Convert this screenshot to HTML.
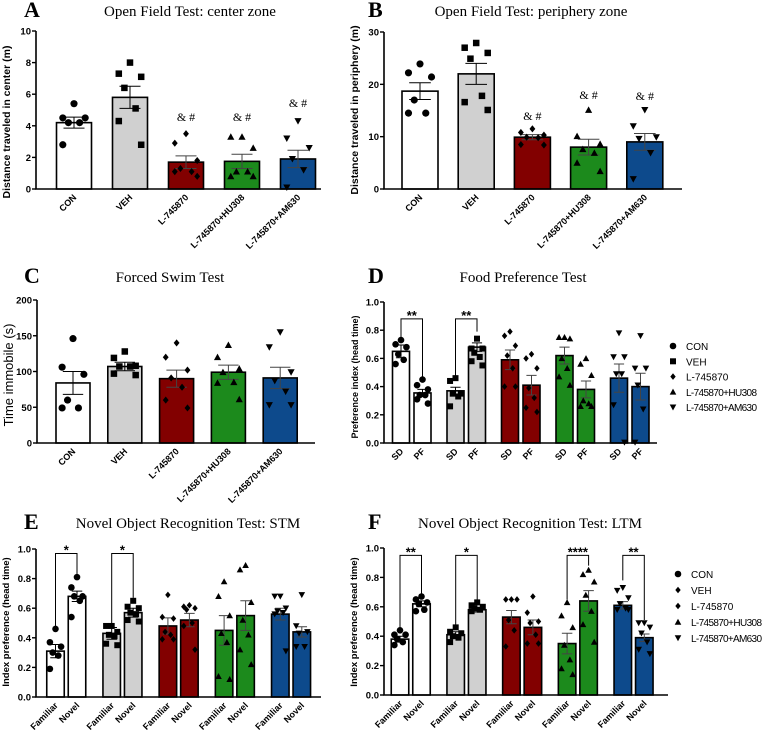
<!DOCTYPE html>
<html><head><meta charset="utf-8"><style>
body{margin:0;background:#fff}
svg{display:block}
text{font-family:"Liberation Sans",sans-serif}
.serif{font-family:"Liberation Serif",serif}
</style></head><body>
<svg id="fig" width="767" height="730" viewBox="0 0 767 730" xmlns="http://www.w3.org/2000/svg"></svg>
<script>
// ---- shared
const groupNames = ["CON","VEH","L-745870","L-745870+HU308","L-745870+AM630"];
const groupColors = ["#ffffff","#d0d0d0","#820000","#1c8a1c","#0d4a8c"];
const groupShapes = ["circle","square","diamond","tri","tridown"];
const legendShapesF = ["circle","diamond","diamond","tri","tridown"];

// ---- Panel A data
const aMeans = [4.2,5.8,1.7,1.75,1.9];
const aSems = [0.35,0.7,0.4,0.45,0.55];
const aPts = [[5.4,4.5,4.5,4.2,4.2,2.8],[8.0,7.3,7.1,6.4,5.1,4.3,2.8],[3.5,2.9,1.8,1.3,1.1,1.1,0.8],[3.3,3.3,2.6,1.1,1.1,0.8,0.8],[4.3,3.2,2.6,1.9,1.2,0.1]];
const aAnnot = ["","","& #","& #","& #"];
const aAnnotY = [0,0,4.3,4.3,5.2];
const aTicks = [0,2,4,6,8,10];
// ---- Panel B data
const bMeans = [18.7,22.0,9.9,8.0,9.0];
const bSems = [1.6,2.0,0.5,1.5,1.6];
const bPts = [[23.9,22.2,21.4,17.0,14.5,14.5],[27.9,27.0,26.0,24.9,17.8,16.6,15.1],[11.5,10.8,10.3,9.9,9.8,8.5,8.4],[15.1,10.1,8.6,7.6,6.9,5.0,3.4],[15.1,12.0,9.9,9.6,6.9,1.9]];
const bAnnot = ["","","& #","& #","& #"];
const bAnnotY = [0,0,13.2,17.2,17.0];
const bTicks = [0,10,20,30];
// ---- Panel C data
const cMeans = [84,107,90,99,91];
const cSems = [16,6,12,10,15];
const cPts = [[146,106,96,60,49,49],[128,119,108,107,107,97,95],[140,120,102,91,78,60,49],[137,120,104,99,85,84,61],[155,134,99,87,72,53,53]];
const cTicks = [0,50,100,150,200];
// ---- Panel D data
const dLabels = ["SD","PF","SD","PF","SD","PF","SD","PF","SD","PF"];
const dMeans = [0.65,0.355,0.37,0.68,0.59,0.41,0.62,0.38,0.46,0.40];
const dSems = [0.045,0.025,0.025,0.03,0.07,0.07,0.06,0.06,0.10,0.095];
const dPts = [[0.73,0.70,0.68,0.63,0.59,0.56],[0.45,0.41,0.38,0.34,0.34,0.31,0.28],[0.46,0.44,0.35,0.35,0.33,0.26],[0.74,0.67,0.67,0.64,0.61,0.58,0.55],[0.79,0.76,0.69,0.62,0.53,0.40,0.40],[0.63,0.60,0.53,0.39,0.32,0.25,0.22],[0.75,0.75,0.74,0.60,0.53,0.47,0.41],[0.60,0.56,0.48,0.30,0.28,0.26,0.26],[0.78,0.61,0.61,0.49,0.49,0.27,0.005],[0.76,0.53,0.53,0.41,0.24,0.005]];
const dBrackets = [[0,0.88,0.74,0.46,"**"],[1,0.88,0.47,0.79,"**"]];
const unitTicks = [0,0.2,0.4,0.6,0.8,1.0];
// ---- Panel E data
const eLabels = ["Familiar","Novel","Familiar","Novel","Familiar","Novel","Familiar","Novel","Familiar","Novel"];
const eMeans = [0.31,0.68,0.43,0.57,0.48,0.52,0.45,0.55,0.56,0.44];
const eSems = [0.045,0.035,0.04,0.03,0.055,0.045,0.10,0.10,0.04,0.035];
const ePts = [[0.46,0.37,0.34,0.30,0.28,0.19],[0.81,0.74,0.68,0.68,0.65,0.54],[0.48,0.48,0.44,0.42,0.41,0.36,0.35],[0.65,0.61,0.60,0.57,0.56,0.52,0.51],[0.69,0.54,0.53,0.44,0.42,0.39,0.39],[0.62,0.61,0.60,0.59,0.50,0.48,0.32],[0.78,0.68,0.55,0.43,0.37,0.14,0.12],[0.89,0.86,0.64,0.52,0.42,0.32,0.22],[0.68,0.68,0.60,0.58,0.57,0.56,0.31],[0.69,0.48,0.44,0.43,0.34,0.34]];
const eBrackets = [[0,0.97,0.48,0.83,"*"],[1,0.97,0.50,0.67,"*"]];
// ---- Panel F data
const fMeans = [0.38,0.62,0.41,0.58,0.53,0.46,0.35,0.64,0.61,0.39];
const fSems = [0.02,0.02,0.02,0.015,0.045,0.05,0.07,0.07,0.025,0.025];
const fPts = [[0.44,0.41,0.41,0.38,0.36,0.34],[0.67,0.65,0.63,0.62,0.58,0.57],[0.46,0.43,0.42,0.40,0.39,0.36],[0.63,0.61,0.60,0.59,0.58,0.57],[0.65,0.65,0.65,0.51,0.44,0.33],[0.67,0.56,0.50,0.49,0.41,0.35,0.35],[0.63,0.54,0.46,0.34,0.24,0.18,0.14],[0.85,0.82,0.77,0.68,0.57,0.48,0.36],[0.73,0.71,0.66,0.62,0.59,0.58,0.58],[0.49,0.49,0.46,0.42,0.36,0.31,0.28]];
const fBrackets = [[0,0.95,0.45,0.69,"**"],[1,0.95,0.48,0.65,"*"],[3,0.95,0.65,0.88,"****"],[4,0.95,0.78,0.51,"**"]];

const NS="http://www.w3.org/2000/svg";
const fig=document.getElementById('fig');
function mk(parent,tag,attrs,txt){const e=document.createElementNS(NS,tag);for(const k in attrs)e.setAttribute(k,attrs[k]);if(txt!==undefined)e.textContent=txt;parent.appendChild(e);return e;}

function marker(g,shape,x,y,s){
  let e;
  if(shape==="circle") e=mk(g,'circle',{cx:x,cy:y,r:s*0.55,fill:'#000'});
  else if(shape==="square") e=mk(g,'rect',{x:x-s*0.5,y:y-s*0.5,width:s,height:s,fill:'#000'});
  else if(shape==="diamond") e=mk(g,'polygon',{points:`${x},${y-s*0.55} ${x+s*0.45},${y} ${x},${y+s*0.55} ${x-s*0.45},${y}`,fill:'#000'});
  else if(shape==="tri") e=mk(g,'polygon',{points:`${x},${y-s*0.55} ${x+s*0.55},${y+s*0.45} ${x-s*0.55},${y+s*0.45}`,fill:'#000'});
  else e=mk(g,'polygon',{points:`${x},${y+s*0.55} ${x+s*0.55},${y-s*0.45} ${x-s*0.55},${y-s*0.45}`,fill:'#000'});
  
  
}

function panel(p){
  const g=mk(fig,'g',{});
  
  
  const y=v=>p.y0-(v/p.ymax)*(p.y0-p.yTop);
  const paired=p.means.length===10;
  const cx=i=>paired?(p.first+Math.floor(i/2)*p.gs+(i%2)*p.ps):(p.first+i*p.gs);
  p.means.forEach((m,i)=>{
    const gi=paired?Math.floor(i/2):i;
    const c=cx(i);
    const r=mk(g,'rect',{x:c-p.bw/2,y:y(m),width:p.bw,height:p.y0-y(m),fill:groupColors[gi],stroke:'#000','stroke-width':1.6});
    
    
    const se=p.sems[i], ew=p.bw*0.3;
    const eg=mk(g,'path',{d:`M${c},${y(m-se)}V${y(m+se)}M${c-ew},${y(m+se)}H${c+ew}M${c-ew},${y(m-se)}H${c+ew}`,stroke:gi>1?'#444':'#000','stroke-width':1,fill:'none'});
    
    
    const pts=p.pts[i];
    const pat=[0,-1,1,-0.5,0.5,-1,1,0];
    pts.forEach((v,j)=>{marker(g,groupShapes[gi],c+pat[j%pat.length]*p.bw*0.32,y(v),p.ms);});
    const t=mk(g,'text',{x:c+3,y:p.y0+9,'text-anchor':'end','font-size':p.xfs,'font-weight':'bold',transform:`rotate(-45 ${c+3} ${p.y0+9})`},paired?p.labels[i]:groupNames[i]);
    
    
    if(p.annot&&p.annot[i]){const a=mk(g,'text',{x:c,y:y(p.annotY[i]),'text-anchor':'middle','font-size':12,class:'serif'},p.annot[i]);
      
      }
  });
  const ax=mk(g,'path',{d:`M${p.ax},${p.yTop}V${p.y0}H${p.xEnd}`,stroke:'#000','stroke-width':1.6,fill:'none'});
  
  
  p.ticks.forEach(v=>{
    mk(g,'line',{x1:p.ax-4,x2:p.ax,y1:y(v),y2:y(v),stroke:'#000','stroke-width':1.4});
    const t=mk(g,'text',{x:p.ax-5,y:y(v)+3.5,'text-anchor':'end','font-size':9.5,'font-weight':'bold'},p.fmt(v));
    
    
  });
  (p.brackets||[]).forEach(b=>{
    const l=cx(b[0]*2), r=cx(b[0]*2+1);
    const br=mk(g,'path',{d:`M${l},${y(b[2])}V${y(b[1])}H${r}V${y(b[3])}`,stroke:'#000','stroke-width':1,fill:'none'});
    
    
    const t=mk(g,'text',{x:(l+r)/2,y:y(b[1])+1,'text-anchor':'middle','font-size':13,'font-weight':'bold'},b[4]);
    
    
  });
  const yt=mk(g,'text',{x:p.ylx,y:p.yly,'text-anchor':'middle','font-size':p.ylfs,'font-weight':p.ylw||'bold',transform:`rotate(-90 ${p.ylx} ${p.yly})`},p.ylabel);
  
  
  const tt=mk(g,'text',{x:p.tx,y:p.ty,'text-anchor':'middle','font-size':15,class:'serif'},p.title);
  
  
  const lt=mk(g,'text',{x:p.lx,y:p.ty+1,'font-size':22,'font-weight':'bold',class:'serif'},p.letter);
  
  
}
const f0=v=>String(v), f1=v=>v.toFixed(1);

panel({name:'panel-a',letter:'A',lx:24,title:'Open Field Test: center zone',tx:190,ty:16,ax:36,y0:189,yTop:31,ymax:10,xEnd:321,first:74,gs:56,bw:35,ms:6.5,xfs:9,
  means:aMeans,sems:aSems,pts:aPts,ticks:aTicks,fmt:f0,annot:aAnnot,annotY:aAnnotY,ylabel:'Distance  traveled in center (m)',ylx:10,yly:122,ylfs:10.5});
panel({name:'panel-b',letter:'B',lx:368,title:'Open Field Test: periphery zone',tx:531,ty:16,ax:384,y0:189,yTop:32,ymax:30,xEnd:682,first:420,gs:56.2,bw:36,ms:6.5,xfs:9,
  means:bMeans,sems:bSems,pts:bPts,ticks:bTicks,fmt:f0,annot:bAnnot,annotY:bAnnotY,ylabel:'Distance  traveled in periphery (m)',ylx:358,yly:110,ylfs:10.5});
panel({name:'panel-c',letter:'C',lx:24,title:'Forced Swim Test',tx:170,ty:282,ax:37,y0:443,yTop:300,ymax:200,xEnd:315,first:73,gs:51.8,bw:34,ms:6.5,xfs:9,
  means:cMeans,sems:cSems,pts:cPts,ticks:cTicks,fmt:f0,ylabel:'Time immobile (s)',ylx:13,yly:375,ylfs:13,ylw:'normal'});
panel({name:'panel-d',letter:'D',lx:368,title:'Food Preference Test',tx:523,ty:282,ax:384,y0:443,yTop:302,ymax:1,xEnd:657,first:401,gs:54.5,ps:21.5,bw:17,ms:6,xfs:9,
  means:dMeans,sems:dSems,pts:dPts,labels:dLabels,ticks:unitTicks,fmt:f1,brackets:dBrackets,ylabel:'Preference index (head time)',ylx:358,yly:377,ylfs:9});
panel({name:'panel-e',letter:'E',lx:24,title:'Novel Object Recognition Test: STM',tx:188,ty:528,ax:36,y0:697,yTop:549,ymax:1,xEnd:321,first:55.5,gs:56.2,ps:21.5,bw:17.5,ms:6,xfs:9,
  means:eMeans,sems:eSems,pts:ePts,labels:eLabels,ticks:unitTicks,fmt:f1,brackets:eBrackets,ylabel:'Index preference (head time)',ylx:9,yly:622,ylfs:9.5});
panel({name:'panel-f',letter:'F',lx:368,title:'Novel Object Recognition Test: LTM',tx:530,ty:528,ax:384,y0:695,yTop:548,ymax:1,xEnd:668,first:400,gs:55.7,ps:21.5,bw:17.5,ms:6,xfs:9,
  means:fMeans,sems:fSems,pts:fPts,labels:eLabels,ticks:unitTicks,fmt:f1,brackets:fBrackets,ylabel:'Index preference (head time)',ylx:357,yly:622,ylfs:9.5});

function legend(name,mx,tx,ys,shapes){
  const g=mk(fig,'g',{});
  
  
  groupNames.forEach((n,i)=>{
    marker(g,shapes[i],mx,ys[0]+i*ys[1],6);
    const t=mk(g,'text',{x:tx,y:ys[0]+i*ys[1]+4,'font-size':10,textLength:n.length>8?71:undefined},n);
    if(n.length<=8) t.removeAttribute('textLength');
    
    
  });
}
legend('legend-d',673,686,[346,15.3],groupShapes);
legend('legend-f',678,691,[574,16],legendShapesF);
</script>
</body></html>
